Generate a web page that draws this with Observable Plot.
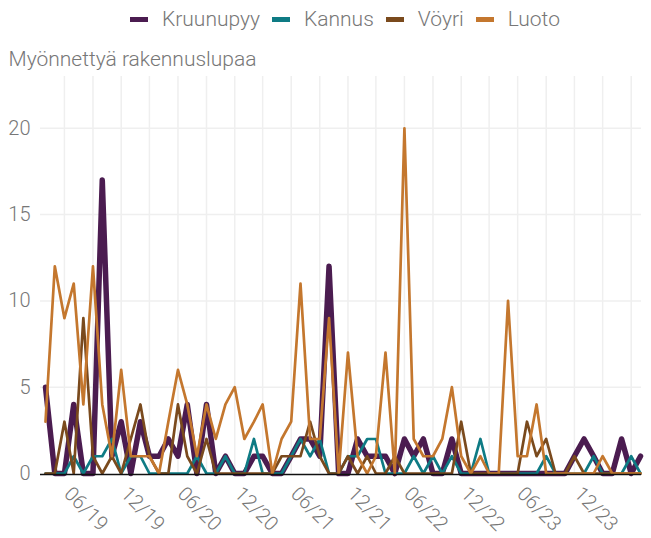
<!DOCTYPE html>
<html>
<head>
<meta charset="utf-8">
<script src="https://cdn.jsdelivr.net/npm/d3@7"></script>
<script src="https://cdn.jsdelivr.net/npm/@observablehq/plot@0.6"></script>
<style>
  body { margin: 0; background: #fff; }
  #legend { height: 38px; display: flex; align-items: center; padding-left: 130px; box-sizing: border-box;
    font-family: "Roboto", sans-serif; font-weight: 300; font-size: 21px; color: #777; }
  #legend .item { display: flex; align-items: center; margin-right: 12px; }
  #legend .sw { width: 18px; height: 5px; margin-right: 14px; }
  #chart svg text { font-weight: 300; }
</style>
</head>
<body>
<div id="legend"></div>
<div id="chart"></div>
<script>
const seriesNames = ["Kruunupyy", "Kannus", "Vöyri", "Luoto"];
const seriesColors = ["#4b1c50", "#0e7b84", "#7a4a1d", "#c4772e"];
const seriesWidths = [5.5, 2.7, 2.7, 2.7];

const firstMonth = "2019-04-01";
const lastMonth = "2024-07-01";

const kruunupyy = [5,0,0,4,0,0,17,1,3,0, 3,1,1,2,1,4,0,4,0,1, 0,0,1,1,0,0,1,2,2,1,
  12,0,0,2,1,1,1,0,2,1, 2,0,0,2,0,0,0,0,0,0, 0,0,0,0,0,0,1,2,1,0, 0,2,0,1];
const kannus = [0,0,0,1,0,1,1,2,0,1, 1,0,0,0,0,0,1,0,0,1, 0,0,2,0,0,0,1,2,1,2,
  0,0,1,1,2,2,0,0,0,1, 0,1,0,1,0,0,2,0,0,0, 0,0,0,1,0,0,0,0,1,0, 0,0,1,0];
const voyri = [0,0,3,0,9,1,0,1,0,2, 4,1,0,0,4,1,0,2,0,0, 0,0,0,0,0,1,1,1,3,1,
  0,0,1,0,1,0,0,1,0,0, 0,0,0,0,3,0,0,0,0,0, 0,3,1,2,0,0,1,0,0,0, 0,0,0,0];
const luoto = [3,12,9,11,4,12,4,1,6,1, 1,1,0,3,6,4,1,4,2,4, 5,2,3,4,0,2,3,11,2,2,
  9,0,7,1,0,1,7,0,20,2, 1,1,2,5,1,0,1,0,0,10, 1,1,4,0,0,0,0,0,0,1, 0,0,0,0];

const yTicks = [0, 5, 10, 15, 20];
const xLabelTicks = ["2019-06","2019-12","2020-06","2020-12","2021-06","2021-12","2022-06","2022-12","2023-06","2023-12"];
const xGridTicks = ["2019-06","2019-09","2019-12","2020-03","2020-06","2020-09","2020-12","2021-03","2021-06","2021-09",
  "2021-12","2022-03","2022-06","2022-09","2022-12","2023-03","2023-06","2023-09","2023-12","2024-03","2024-06"];
const yLabel = "Myönnettyä rakennuslupaa";

const parseMonth = s => new Date(s.length === 7 ? s + "-01T00:00:00Z" : s + "T00:00:00Z");
const months = d3.utcMonth.range(parseMonth(firstMonth), d3.utcMonth.offset(parseMonth(lastMonth), 1));
const allValues = [kruunupyy, kannus, voyri, luoto];
const tables = allValues.map((vals, i) => vals.map((v, j) => ({series: seriesNames[i], date: months[j], value: v})));

// legend
const legend = document.getElementById("legend");
seriesNames.forEach((n, i) => {
  const it = document.createElement("div"); it.className = "item";
  const sw = document.createElement("div"); sw.className = "sw"; sw.style.background = seriesColors[i];
  const tx = document.createElement("span"); tx.textContent = n;
  it.appendChild(sw); it.appendChild(tx); legend.appendChild(it);
});

const plot = Plot.plot({
  width: 651,
  height: 500,
  marginTop: 38,
  marginBottom: 65,
  marginLeft: 40,
  marginRight: 10,
  insetLeft: 5,
  insetRight: 1,
  style: {fontFamily: "Roboto, sans-serif", color: "#777", background: "#fff"},
  x: {type: "utc", domain: [parseMonth(firstMonth), parseMonth(lastMonth)]},
  y: {domain: [0, 23]},
  marks: [
    Plot.gridX(xGridTicks.map(parseMonth), {stroke: "#efefef", strokeOpacity: 1, strokeWidth: 1.5}),
    Plot.gridY([5, 10, 15, 20], {stroke: "#efefef", strokeOpacity: 1, strokeWidth: 1.5}),
    Plot.axisY(yTicks, {tickSize: 0, tickPadding: 10, fontSize: 20, label: null}),
    Plot.axisX(xLabelTicks.map(parseMonth), {tickFormat: d3.utcFormat("%m/%y"), tickRotate: 45, tickSize: 0,
      tickPadding: 17, dx: 3, fontSize: 20, label: null}),
    ...tables.map((t, i) => Plot.lineY(t, {x: "date", y: "value", stroke: seriesColors[i], strokeWidth: seriesWidths[i]})),
    Plot.ruleY([0], {stroke: "#111", strokeWidth: 1.5, dy: 1}),
    Plot.text([yLabel], {frameAnchor: "top-left", dx: -32, dy: -17, lineAnchor: "middle", textAnchor: "start",
      fontSize: 21, fill: "#777"})
  ]
});
document.getElementById("chart").appendChild(plot);
</script>
</body>
</html>
